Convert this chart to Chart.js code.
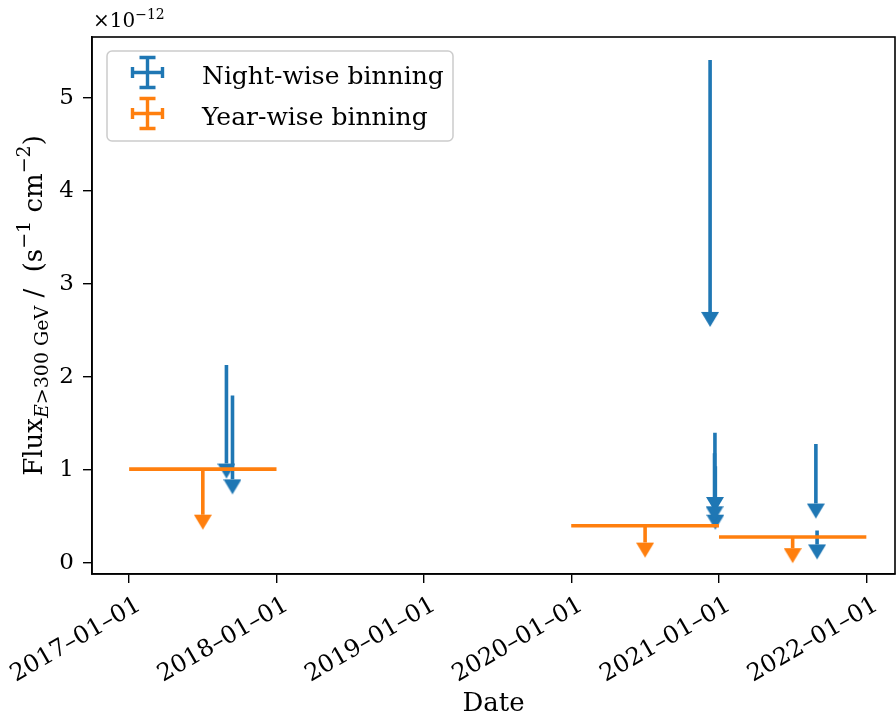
<!DOCTYPE html>
<html>
<head>
<meta charset="utf-8">
<script src="https://cdn.jsdelivr.net/npm/chart.js@4.4.0/dist/chart.umd.min.js"></script>
<style>
  html, body { margin: 0; padding: 0; background: #fff; }
  #chart { display: block; }
</style>
</head>
<body>
<canvas id="chart" width="896" height="722"></canvas>
<script>
// flux values are in units of 1e-12 s^-1 cm^-2 (offset label on the y axis)
const seriesLabels = ["Night-wise binning", "Year-wise binning"];

// night-wise upper limits: top value and lower end of the arrow shaft
const nightDates = ["2017-08-30", "2017-09-14", "2020-12-10", "2020-12-21", "2020-12-22", "2020-12-23", "2021-08-29", "2021-09-01"];
const nightFlux = [2.13, 1.80, 5.41, 1.18, 1.40, 1.04, 1.28, 0.35];
const nightLower = [1.07, 0.90, 2.70, 0.61, 0.71, 0.52, 0.64, 0.20];

// year-wise upper limits
const yearStart = ["2017-01-01", "2020-01-01", "2021-01-01"];
const yearEnd = ["2018-01-01", "2021-01-01", "2022-01-01"];
const yearFlux = [1.01, 0.40, 0.28];
const yearLower = [0.52, 0.22, 0.16];

const xTickDates = ["2017-01-01", "2018-01-01", "2019-01-01", "2020-01-01", "2021-01-01", "2022-01-01"];
const yTicks = [0, 1, 2, 3, 4, 5];

const BLUE = "#1f77b4";
const ORANGE = "#ff7f0e";
const LW = 3.6;
const SERIF = "'DejaVu Serif', serif";

Chart.defaults.font.family = SERIF;
Chart.defaults.color = "#000";

function arrowHead(color) {
  // base of the triangle sits at the canvas centre, so the point marks the shaft end
  const c = document.createElement("canvas");
  c.width = 18;
  c.height = 32;
  const g = c.getContext("2d");
  g.fillStyle = color;
  g.beginPath();
  g.moveTo(0, 16);
  g.lineTo(18, 16);
  g.lineTo(9, 31);
  g.closePath();
  g.fill();
  return c;
}
const blueHead = arrowHead(BLUE);
const orangeHead = arrowHead(ORANGE);

function limitSet(label, color, head, x, top, low, order) {
  return {
    label: label,
    data: [{ x: x, y: top }, { x: x, y: low }],
    borderColor: color,
    backgroundColor: color,
    borderWidth: LW,
    borderCapStyle: "butt",
    pointRadius: [0, 8],
    pointBorderWidth: 0,
    pointStyle: head,
    order: order,
  };
}

const datasets = [];
yearFlux.forEach((v, i) => {
  const s = Date.parse(yearStart[i]);
  const e = Date.parse(yearEnd[i]);
  datasets.push({
    label: seriesLabels[1],
    data: [{ x: s, y: v }, { x: e, y: v }],
    borderColor: ORANGE,
    borderWidth: LW,
    borderCapStyle: "butt",
    pointRadius: 0,
    order: 0,
  });
  datasets.push(limitSet(seriesLabels[1], ORANGE, orangeHead, (s + e) / 2, v, yearLower[i], 0));
});
nightFlux.forEach((v, i) => {
  datasets.push(limitSet(seriesLabels[0], BLUE, blueHead, Date.parse(nightDates[i]), v, nightLower[i], 1));
});

function drawRich(ctx, parts, x, y) {
  parts.forEach((p) => {
    ctx.font = (p.italic ? "italic " : "") + p.size + "px " + SERIF;
    ctx.fillText(p.t, x, y + (p.dy || 0));
    x += ctx.measureText(p.t).width;
  });
}
function richWidth(ctx, parts) {
  let w = 0;
  parts.forEach((p) => {
    ctx.font = (p.italic ? "italic " : "") + p.size + "px " + SERIF;
    w += ctx.measureText(p.t).width;
  });
  return w;
}

const yTitle = [
  { t: "Flux", size: 26 },
  { t: "E", size: 19, italic: true, dy: 6 },
  { t: ">300 GeV", size: 19, dy: 6 },
  { t: " /  (s", size: 26 },
  { t: "\u22121", size: 19, dy: -12 },
  { t: " cm", size: 26 },
  { t: "\u22122", size: 19, dy: -12 },
  { t: ")", size: 26 },
];

const extras = {
  id: "extras",
  afterDatasetsDraw(chart) {
    const { ctx, chartArea: a } = chart;
    ctx.save();
    ctx.strokeStyle = "#000";
    ctx.lineWidth = 1.6;
    ctx.strokeRect(a.left, a.top, a.right - a.left, a.bottom - a.top);
    ctx.restore();
  },
  afterDraw(chart) {
    const { ctx, chartArea: a } = chart;
    ctx.save();
    ctx.fillStyle = "#000";
    ctx.textBaseline = "alphabetic";

    // offset text
    drawRich(ctx, [{ t: "\u00d710", size: 20 }, { t: "\u221212", size: 14, dy: -8 }], a.left + 1, 27);

    // y axis title
    ctx.save();
    ctx.translate(42, (a.top + a.bottom) / 2);
    ctx.rotate(-Math.PI / 2);
    drawRich(ctx, yTitle, -richWidth(ctx, yTitle) / 2, 0);
    ctx.restore();

    // x axis title
    ctx.font = "26px " + SERIF;
    ctx.textAlign = "center";
    ctx.fillText("Date", (a.left + a.right) / 2, 711);
    ctx.textAlign = "left";

    // legend
    ctx.beginPath();
    ctx.roundRect(107, 51, 346, 90, 5);
    ctx.fillStyle = "rgba(255,255,255,0.8)";
    ctx.fill();
    ctx.strokeStyle = "#cccccc";
    ctx.lineWidth = 1.5;
    ctx.stroke();
    [BLUE, ORANGE].forEach((col, i) => {
      const cx = 147.5, cy = 72.5 + i * 41;
      ctx.strokeStyle = col;
      ctx.lineWidth = 3.4;
      ctx.beginPath();
      ctx.moveTo(cx - 15, cy); ctx.lineTo(cx + 15, cy);
      ctx.moveTo(cx, cy - 15); ctx.lineTo(cx, cy + 15);
      ctx.moveTo(cx - 8, cy - 15); ctx.lineTo(cx + 8, cy - 15);
      ctx.moveTo(cx - 8, cy + 15); ctx.lineTo(cx + 8, cy + 15);
      ctx.moveTo(cx - 15, cy - 5.5); ctx.lineTo(cx - 15, cy + 5.5);
      ctx.moveTo(cx + 15, cy - 5.5); ctx.lineTo(cx + 15, cy + 5.5);
      ctx.stroke();
      ctx.fillStyle = "#000";
      ctx.font = "25px " + SERIF;
      ctx.fillText(seriesLabels[i], 202, cy + 11);
    });
    ctx.restore();
  },
};

new Chart(document.getElementById("chart"), {
  type: "line",
  data: { datasets: datasets },
  options: {
    responsive: false,
    animation: false,
    events: [],
    layout: { autoPadding: false, padding: { top: 37, right: 1, left: 0, bottom: 0 } },
    plugins: { legend: { display: false }, tooltip: { enabled: false } },
    scales: {
      x: {
        type: "linear",
        min: Date.parse("2016-10-01"),
        max: Date.parse("2022-03-13"),
        afterBuildTicks: (s) => { s.ticks = xTickDates.map((d) => ({ value: Date.parse(d) })); },
        afterFit: (s) => { s.height = 148; s.paddingLeft = 0; s.paddingRight = 0; },
        ticks: {
          autoSkip: false,
          minRotation: 30,
          maxRotation: 30,
          padding: 8,
          labelOffset: 10,
          font: { size: 24 },
          color: "#000",
          callback: (v) => new Date(v).toISOString().slice(0, 10).replace(/-/g, "\u2013"),
        },
        grid: { drawOnChartArea: false, drawTicks: true, tickLength: 9, color: "#000", lineWidth: 1.4 },
        border: { color: "#000", width: 1.6 },
      },
      y: {
        min: -0.118,
        max: 5.656,
        afterBuildTicks: (s) => { s.ticks = yTicks.map((v) => ({ value: v })); },
        afterFit: (s) => { s.width = 92; s.paddingTop = 0; s.paddingBottom = 0; },
        ticks: { padding: 9, font: { size: 23 }, color: "#000", callback: (v) => String(v) },
        grid: { drawOnChartArea: false, drawTicks: true, tickLength: 9, color: "#000", lineWidth: 1.4 },
        border: { color: "#000", width: 1.6 },
      },
    },
  },
  plugins: [extras],
});
</script>
</body>
</html>
